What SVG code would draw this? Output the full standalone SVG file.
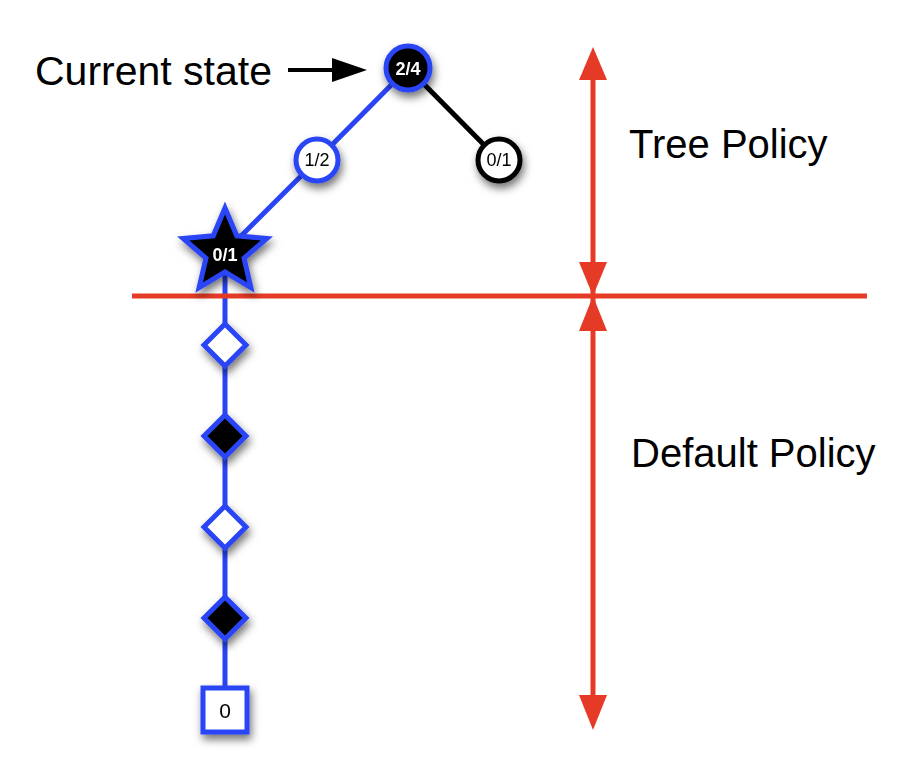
<svg xmlns="http://www.w3.org/2000/svg" width="905" height="774" viewBox="0 0 905 774">
<defs>
<filter id="sh" x="-50%" y="-50%" width="200%" height="200%">
<feDropShadow dx="2" dy="5" stdDeviation="4" flood-color="#000" flood-opacity="0.55"/>
</filter>
<style>
.blue{stroke:#2a44f5;stroke-width:5;fill:none}
.nb{stroke:#2a44f5;stroke-width:5}
.red{stroke:#e53b26;stroke-width:5;fill:none}
.redf{fill:#e53b26}
.big{font-family:"Liberation Sans",Arial,sans-serif;font-size:40px;fill:#000}
.lbl{font-family:"Liberation Sans",Arial,sans-serif;font-size:18px;text-anchor:middle}
</style>
</defs>
<rect width="905" height="774" fill="#fff"/>
<g id="connectors">
<line class="blue" x1="408" y1="68" x2="317" y2="160"/>
<line class="blue" x1="317" y1="160" x2="225" y2="252"/>
<line x1="408" y1="68" x2="499" y2="160" stroke="#000" stroke-width="5"/>
<line class="blue" x1="225" y1="252" x2="225" y2="710"/>
<line x1="288" y1="70" x2="336" y2="70" stroke="#000" stroke-width="4"/>
<polygon points="332,58 367,70 332,82" fill="#000"/>
</g>
<g id="policy-lines">
<line class="red" x1="132" y1="296" x2="867" y2="296"/>
<line class="red" x1="593" y1="78" x2="593" y2="697"/>
<polygon class="redf" points="593,47 579,80 607,80"/>
<polygon class="redf" points="593,296 579,262 607,262"/>
<polygon class="redf" points="593,296 579,331 607,331"/>
<polygon class="redf" points="593,730 579,695 607,695"/>
</g>
<g id="node-root" filter="url(#sh)">
<circle class="nb" cx="408" cy="68" r="22" fill="#000"/>
<text class="lbl" x="408" y="75" fill="#fff" font-weight="bold">2/4</text>
</g>
<g id="node-12" filter="url(#sh)">
<circle class="nb" cx="317" cy="160" r="21" fill="#fff"/>
<text class="lbl" x="317" y="166" fill="#000">1/2</text>
</g>
<g id="node-01" filter="url(#sh)">
<circle cx="499" cy="160" r="21" fill="#fff" stroke="#000" stroke-width="5"/>
<text class="lbl" x="499" y="166" fill="#000">0/1</text>
</g>
<g id="node-star" filter="url(#sh)">
<polygon class="nb" fill="#000" stroke-linejoin="miter" points="225,208 236.76,235.82 266.85,238.4 244.02,258.18 250.86,287.6 225,272 199.14,287.6 205.98,258.18 183.15,238.4 213.24,235.82"/>
<text class="lbl" x="225" y="261" fill="#fff" font-weight="bold">0/1</text>
</g>
<g id="node-d1" filter="url(#sh)">
<polygon class="nb" fill="#fff" points="225,324 246,345 225,366 204,345"/>
</g>
<g id="node-d2" filter="url(#sh)">
<polygon class="nb" fill="#000" points="225,415 246,436 225,457 204,436"/>
</g>
<g id="node-d3" filter="url(#sh)">
<polygon class="nb" fill="#fff" points="225,506 246,527 225,548 204,527"/>
</g>
<g id="node-d4" filter="url(#sh)">
<polygon class="nb" fill="#000" points="225,597 246,618 225,639 204,618"/>
</g>
<g id="node-leaf" filter="url(#sh)">
<rect class="nb" x="203" y="688" width="44" height="44" fill="#fff"/>
<text class="lbl" x="225" y="718" fill="#000" style="font-size:21px">0</text>
</g>
<g id="labels">
<text class="big" x="35" y="85" style="font-size:41px">Current state</text>
<text class="big" x="629" y="158">Tree Policy</text>
<text class="big" x="631" y="467">Default Policy</text>
</g>
</svg>
